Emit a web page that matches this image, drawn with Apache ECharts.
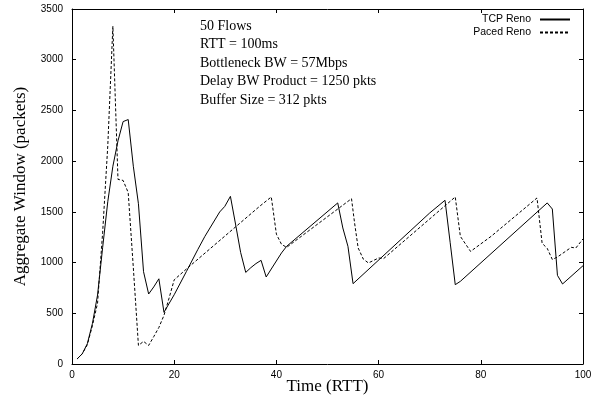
<!DOCTYPE html>
<html>
<head>
<meta charset="utf-8">
<script src="https://cdn.jsdelivr.net/npm/echarts@6/dist/echarts.min.js"></script>
<style>
html,body{margin:0;padding:0;background:#fff;}
#chart{width:591px;height:396px;}
</style>
</head>
<body>
<div id="chart"></div>
<script>
// ---- Data ----
const seriesNames = ['TCP Reno', 'Paced Reno'];

const tcpRenoTime   = [1,2,3,4,5,6,7,8,9,10,11,12,13,14,15,16,17,18,20,22.4,24.6,26,28.9,29.9,31,32,33,34,35,36,37,38,41,42,52,53,54,55,70,73,74,75,76,93,94,95,96,100];
const tcpRenoWindow = [50,100,200,400,680,1150,1600,1950,2200,2390,2410,1950,1580,910,690,760,840,510,683,913,1127,1258,1499,1554,1653,1380,1100,903,950,990,1022,858,1095,1160,1588,1341,1160,792,1489,1614,1200,782,815,1588,1528,874,789,969];

const pacedRenoTime   = [1,2,3,4,5,6,7,8,9,10,11,12,13,14,15,16,17,18,19,20,22.4,36.7,39,40,41,42,54.7,55.3,56,57,58,60,61,75,76,78,82,91,92,93,94,95,97.7,98.6,100];
const pacedRenoWindow = [50,100,190,380,600,1300,2150,3330,1820,1810,1690,950,183,223,183,270,360,480,650,830,937,1554,1647,1280,1180,1150,1630,1390,1144,1035,996,1045,1040,1647,1258,1110,1258,1637,1190,1140,1030,1055,1150,1144,1233];

const xTicks = {min: 0, max: 100, interval: 20};
const yTicks = {min: 0, max: 3500, interval: 500};

const annotationLines = [
  '50 Flows',
  'RTT = 100ms',
  'Bottleneck BW = 57Mbps',
  'Delay BW Product = 1250 pkts',
  'Buffer Size = 312 pkts'
];
const xTitle = 'Time (RTT)';
const yTitle = 'Aggregate Window (packets)';

// ---- Chart ----
const zip = (xs, ys) => xs.map((x, i) => [x, ys[i]]);
const SANS = '"Liberation Sans", Arial, Helvetica, sans-serif';
const SERIF = '"Liberation Serif", "Times New Roman", serif';

const chart = echarts.init(document.getElementById('chart'), null, {renderer: 'canvas'});

const tickCommon = {show: true, inside: true, length: 4, lineStyle: {color: '#000', width: 1}};
const lineCommon = {show: true, onZero: false, lineStyle: {color: '#000', width: 1}};
const plain = v => String(v);

chart.setOption({
  animation: false,
  backgroundColor: '#fff',
  grid: {left: 72, right: 8, top: 9, bottom: 32, containLabel: false, outerBoundsMode: 'none'},
  legend: {
    data: seriesNames,
    orient: 'vertical',
    right: 20,
    top: 14,
    align: 'right',
    padding: 0,
    itemWidth: 30,
    itemHeight: 10,
    itemGap: 2,
    itemStyle: {color: 'rgba(0,0,0,0)', borderWidth: 0},
    textStyle: {fontFamily: SANS, fontSize: 10.5, color: '#000', padding: [0, 4, 0, 0]}
  },
  xAxis: [
    {
      type: 'value', position: 'bottom',
      min: xTicks.min, max: xTicks.max, interval: xTicks.interval,
      name: xTitle, nameLocation: 'middle', nameGap: 14, nameMoveOverlap: false,
      nameTextStyle: {fontFamily: SERIF, fontSize: 17, color: '#000'},
      axisLine: lineCommon, axisTick: tickCommon,
      axisLabel: {fontFamily: SANS, fontSize: 10, color: '#000', margin: 6, formatter: plain},
      splitLine: {show: false}
    },
    {
      type: 'value', position: 'top',
      min: xTicks.min, max: xTicks.max, interval: xTicks.interval,
      axisLine: lineCommon, axisTick: tickCommon,
      axisLabel: {show: false}, splitLine: {show: false}
    }
  ],
  yAxis: [
    {
      type: 'value', position: 'left',
      min: yTicks.min, max: yTicks.max, interval: yTicks.interval,
      name: yTitle, nameLocation: 'middle', nameGap: 43, nameRotate: 90, nameMoveOverlap: false,
      nameTextStyle: {fontFamily: SERIF, fontSize: 17, color: '#000'},
      axisLine: lineCommon, axisTick: tickCommon,
      axisLabel: {fontFamily: SANS, fontSize: 10, color: '#000', margin: 9, formatter: plain},
      splitLine: {show: false}
    },
    {
      type: 'value', position: 'right',
      min: yTicks.min, max: yTicks.max, interval: yTicks.interval,
      axisLine: lineCommon, axisTick: tickCommon,
      axisLabel: {show: false}, splitLine: {show: false}
    }
  ],
  series: [
    {
      name: seriesNames[0], type: 'line', xAxisIndex: 0, yAxisIndex: 0,
      data: zip(tcpRenoTime, tcpRenoWindow),
      symbol: 'none', showSymbol: false,
      lineStyle: {color: '#000', width: 1, type: 'solid'},
      itemStyle: {color: '#000'}
    },
    {
      name: seriesNames[1], type: 'line', xAxisIndex: 0, yAxisIndex: 0,
      data: zip(pacedRenoTime, pacedRenoWindow),
      symbol: 'none', showSymbol: false,
      lineStyle: {color: '#000', width: 1, type: [3, 2]},
      itemStyle: {color: '#000'}
    }
  ],
  graphic: [
    {
      type: 'text', left: 200, top: 17,
      style: {
        text: annotationLines.join('\n'),
        font: '14px ' + SERIF,
        lineHeight: 18.5,
        fill: '#000'
      }
    }
  ]
});
</script>
</body>
</html>
